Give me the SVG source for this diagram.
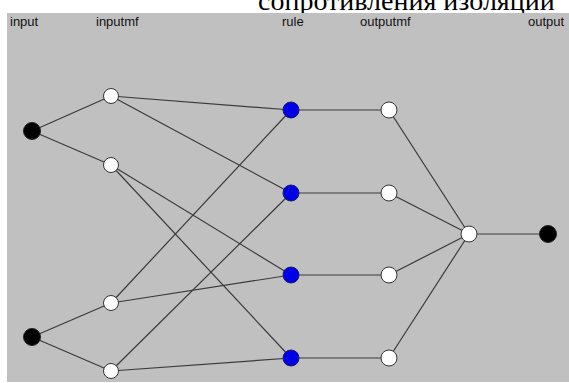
<svg xmlns="http://www.w3.org/2000/svg" width="569" height="383" viewBox="0 0 569 383">
  <style>
    .title { font-family: "Liberation Serif", "DejaVu Serif", serif; font-size: 28px; fill: #000; }
    .layer { font-family: "Liberation Sans", Arial, sans-serif; font-size: 13px; fill: #111; }
    .edge { stroke: #3a3a3a; stroke-width: 1.2; fill: none; }
    .io { fill: #000; stroke: #222; stroke-width: 1; }
    .mf { fill: #fff; stroke: #333; stroke-width: 1; }
    .rule { fill: #0000e8; stroke: #1a1a6a; stroke-width: 1; }
  </style>

  <rect x="0" y="0" width="569" height="383" fill="#fff"/>

  <!-- heading line, its lower part hidden under the panel -->
  <text class="title" x="258" y="10">сопротивления изоляции</text>

  <rect x="7" y="13" width="562" height="369" fill="#c0c0c0"/>

  <g id="labels">
    <text class="layer" x="10" y="26">input</text>
    <text class="layer" x="96" y="26">inputmf</text>
    <text class="layer" x="282" y="26">rule</text>
    <text class="layer" x="360" y="26">outputmf</text>
    <text class="layer" x="528" y="26">output</text>
  </g>

  <g id="connectors">
    <line class="edge" x1="32" y1="131" x2="111" y2="96"/>
    <line class="edge" x1="32" y1="131" x2="111" y2="165"/>
    <line class="edge" x1="32" y1="337" x2="111" y2="303"/>
    <line class="edge" x1="32" y1="337" x2="111" y2="371"/>
    <line class="edge" x1="111" y1="96" x2="291" y2="110"/>
    <line class="edge" x1="111" y1="96" x2="291" y2="193"/>
    <line class="edge" x1="111" y1="165" x2="291" y2="275"/>
    <line class="edge" x1="111" y1="165" x2="291" y2="358"/>
    <line class="edge" x1="111" y1="303" x2="291" y2="110"/>
    <line class="edge" x1="111" y1="303" x2="291" y2="275"/>
    <line class="edge" x1="111" y1="371" x2="291" y2="193"/>
    <line class="edge" x1="111" y1="371" x2="291" y2="358"/>
    <line class="edge" x1="291" y1="110" x2="389" y2="110"/>
    <line class="edge" x1="291" y1="193" x2="389" y2="193"/>
    <line class="edge" x1="291" y1="275" x2="389" y2="275"/>
    <line class="edge" x1="291" y1="358" x2="389" y2="358"/>
    <line class="edge" x1="389" y1="110" x2="469" y2="234"/>
    <line class="edge" x1="389" y1="193" x2="469" y2="234"/>
    <line class="edge" x1="389" y1="275" x2="469" y2="234"/>
    <line class="edge" x1="389" y1="358" x2="469" y2="234"/>
    <line class="edge" x1="469" y1="234" x2="548" y2="234"/>
  </g>

  <g id="input1"><circle class="io" cx="32" cy="131" r="8.5"/></g>
  <g id="input2"><circle class="io" cx="32" cy="337" r="8.5"/></g>

  <g id="inputmf1"><circle class="mf" cx="111" cy="96" r="7.5"/></g>
  <g id="inputmf2"><circle class="mf" cx="111" cy="165" r="7.5"/></g>
  <g id="inputmf3"><circle class="mf" cx="111" cy="303" r="7.5"/></g>
  <g id="inputmf4"><circle class="mf" cx="111" cy="371" r="7.5"/></g>

  <g id="rule1"><circle class="rule" cx="291" cy="110" r="8"/></g>
  <g id="rule2"><circle class="rule" cx="291" cy="193" r="8"/></g>
  <g id="rule3"><circle class="rule" cx="291" cy="275" r="8"/></g>
  <g id="rule4"><circle class="rule" cx="291" cy="358" r="8"/></g>

  <g id="outputmf1"><circle class="mf" cx="389" cy="110" r="8"/></g>
  <g id="outputmf2"><circle class="mf" cx="389" cy="193" r="8"/></g>
  <g id="outputmf3"><circle class="mf" cx="389" cy="275" r="8"/></g>
  <g id="outputmf4"><circle class="mf" cx="389" cy="358" r="8"/></g>

  <g id="sum"><circle class="mf" cx="469" cy="234" r="8"/></g>
  <g id="output"><circle class="io" cx="548" cy="234" r="8.5"/></g>
</svg>
